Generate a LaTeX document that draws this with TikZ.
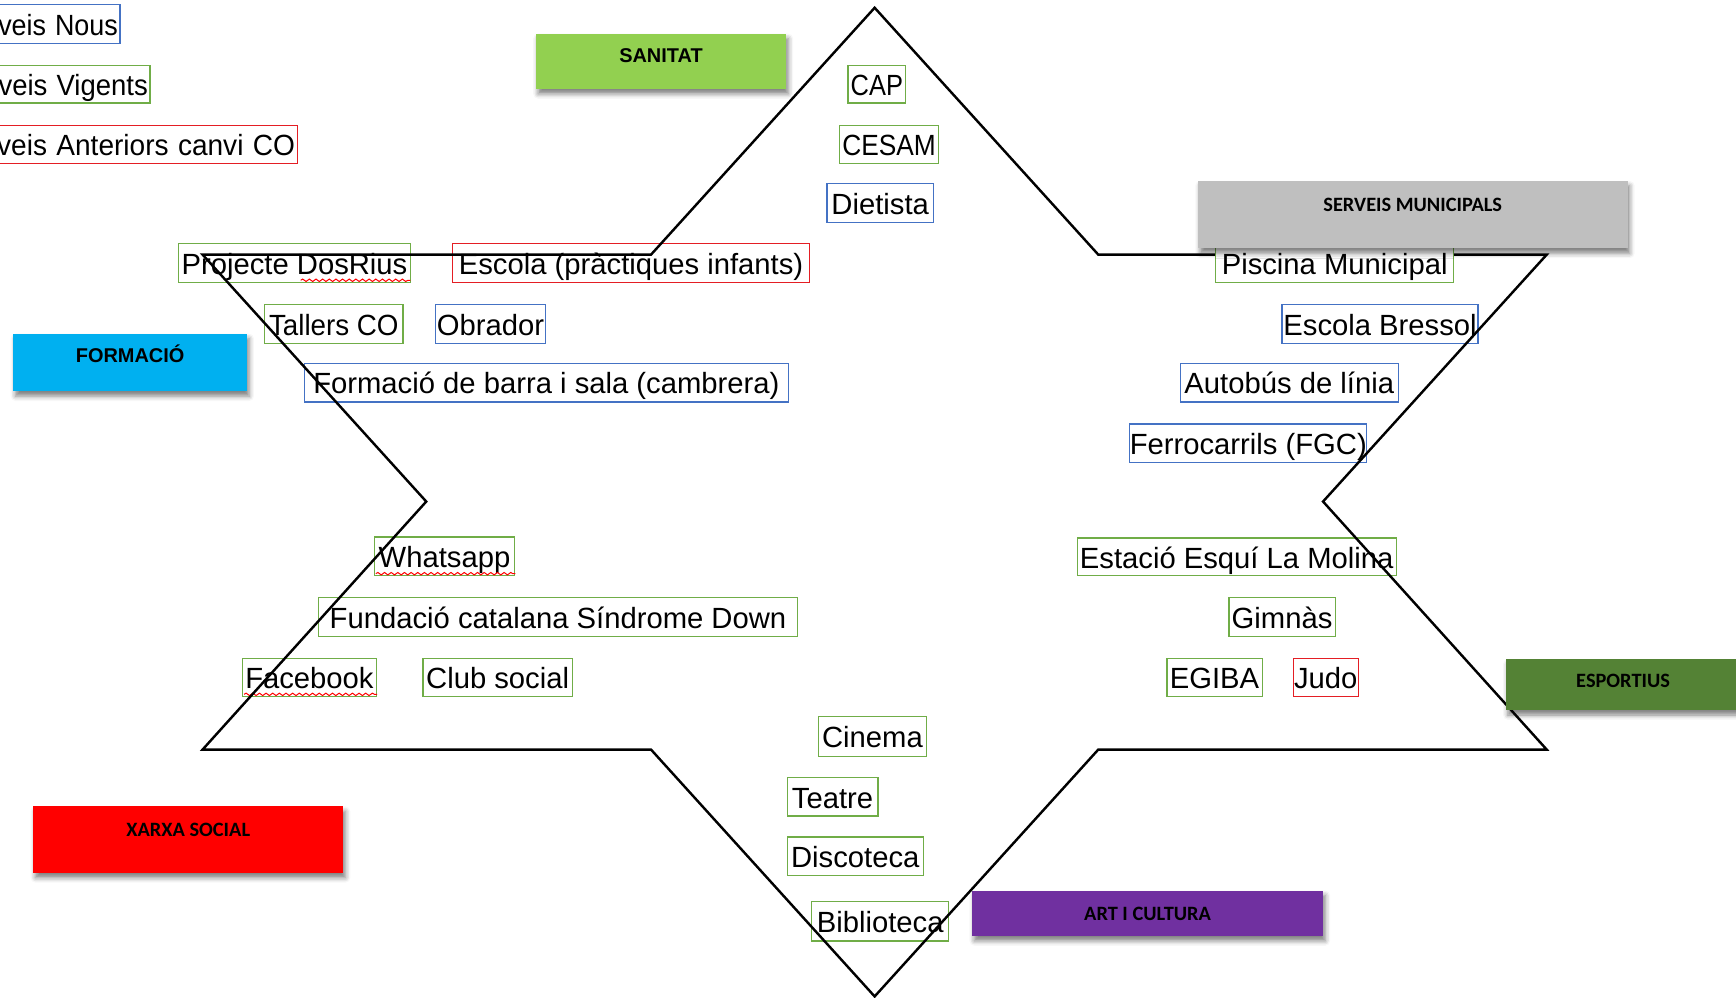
\documentclass[tikz,border=0pt]{standalone}
\usepackage{fontspec}
\setmainfont{Liberation Sans}
\newfontfamily\calfont{Carlito}
\usetikzlibrary{shadows.blur,decorations.pathmorphing}

\definecolor{bxblue}{RGB}{68,114,196}
\definecolor{bxgreen}{RGB}{112,173,71}
\definecolor{bxred}{RGB}{228,30,36}
\definecolor{sanitatc}{RGB}{146,208,80}
\definecolor{municipalc}{RGB}{191,191,191}
\definecolor{formacioc}{RGB}{0,176,240}
\definecolor{esportc}{RGB}{84,130,53}
\definecolor{xarxac}{RGB}{255,0,0}
\definecolor{culturac}{RGB}{112,48,160}

\tikzset{
  tbox/.style={inner sep=0pt, line width=0.55pt, text height=10.3pt, text depth=0pt,
    font=\fontsize{13.2}{15}\selectfont},
  hbox/.style={inner sep=0pt, draw=none,
    blur shadow={shadow xshift=1pt, shadow yshift=-2.2pt, shadow blur radius=2.2pt, shadow opacity=50}},
  starline/.style={line width=1.1pt, line join=miter},
  wavy/.style={draw=red, line width=0.45pt, decorate,
    decoration={snake, segment length=3pt, amplitude=0.55pt}},
  arialb/.style={font=\fontsize{9}{10}\selectfont\bfseries},
  calb/.style={font=\fontsize{9.2}{10}\selectfont\calfont\bfseries}
}

% text box: [extra options], colour, x1, y1, x2, y2, name, text
\newcommand\tb[8][]{%
  \pgfmathsetmacro\tbW{(#5-(#3))*0.5}%
  \pgfmathsetmacro\tbH{(#6-(#4))*0.5}%
  \node[tbox, draw=#2, minimum width=\tbW pt, minimum height=\tbH pt, #1] (#7)
    at ({(#3+#5)/2},{(#4+#6)/2}) {#8};}

% legend box running off the left edge: name, colour, right x, y1, y2, text
\newcommand\lb[6]{%
  \pgfmathsetmacro\tbH{(#5-(#4))*0.5}%
  \node[tbox, draw=#2, anchor=east, text width=150pt, align=right, inner xsep=1pt,
    minimum height=\tbH pt] (#1) at (#3,{(#4+#5)/2}) {#6};}

% coloured heading: name, fill, font style, x1, y1, x2, y2, text centre y, text
\newcommand\hd[9]{%
  \pgfmathsetmacro\hdW{(#6-(#4))*0.5}%
  \pgfmathsetmacro\hdT{(#8-(#5))*0.5+3.2}%
  \pgfmathsetmacro\hdD{(#7-(#5))*0.5-\hdT}%
  \node[hbox, fill=#2, #3, minimum width=\hdW pt, text height=\hdT pt,
    text depth=\hdD pt, anchor=north] (#1) at ({(#4+#6)/2},#5) {#9};}

\begin{document}
\begin{tikzpicture}[x=0.5pt, y=-0.5pt]
\useasboundingbox (0,0) rectangle (1568,901);
\clip (0,0) rectangle (1568,901);

% legend
\lb{nous}{bxblue}{109}{4}{39}{\scalebox{0.92}[1]{veis Nous}}
\lb{vigents}{bxgreen}{136}{59}{93}{\scalebox{0.94}[1]{veis Vigents}}
\lb{anteriors}{bxred}{269}{113}{148}{\scalebox{0.96}[1]{veis Anteriors canvi CO}}

% services (args: colour, x1, y1, x2, y2, name, text)
\tb{bxgreen}{766}{59}{818}{93}{cap}{\scalebox{0.87}[1]{CAP}}
\tb{bxgreen}{758}{113}{848}{148}{cesam}{\scalebox{0.9}[1]{CESAM}}
\tb{bxblue}{747}{166}{843}{201}{dietista}{Dietista}
\tb{bxgreen}{161}{220}{371}{255}{proj}{Projecte DosRius}
\tb{bxred}{409}{220}{731}{255}{escola}{Escola (pràctiques infants)}
\tb{bxgreen}{239}{275}{364}{310}{tallers}{\scalebox{0.95}[1]{Tallers CO}}
\tb{bxblue}{393}{275}{493}{310}{obrador}{Obrador}
\tb{bxblue}{1158}{275}{1335}{310}{bressol}{Escola Bressol}
\tb{bxblue}{275}{328}{712}{363}{barra}{Formació de barra i sala (cambrera)}
\tb{bxblue}{1066}{328}{1263}{363}{bus}{Autobús de línia}
\tb{bxblue}{1021}{383}{1234}{418}{fgc}{Ferrocarrils (FGC)}
\tb{bxgreen}{338}{485}{465}{520}{whats}{Whatsapp}
\tb{bxgreen}{973}{486}{1261}{520}{molina}{Estació Esquí La Molina}
\tb{bxgreen}{288}{540}{720}{575}{down}{Fundació catalana Síndrome Down}
\tb{bxgreen}{1110}{540}{1206}{575}{gimnas}{Gimnàs}
\tb{bxgreen}{219}{595}{340}{629}{face}{Facebook}
\tb{bxgreen}{382}{595}{517}{629}{club}{Club social}
\tb{bxgreen}{1054}{595}{1140}{629}{egiba}{EGIBA}
\tb{bxred}{1168}{595}{1227}{629}{judo}{Judo}
\tb{bxgreen}{739}{647}{837}{683}{cinema}{Cinema}
\tb{bxgreen}{711}{702}{793}{737}{teatre}{Teatre}
\tb{bxgreen}{711}{756}{834}{791}{disco}{Discoteca}
\tb{bxgreen}{733}{814}{857}{850}{biblio}{Biblioteca}

% spell-check underlines
\draw[wavy] ([xshift=-50pt,yshift=1.2pt]proj.south east) -- ([xshift=-0.5pt,yshift=1.2pt]proj.south east);
\draw[wavy] ([xshift=1pt,yshift=1.2pt]whats.south west) -- ([yshift=1.2pt]whats.south east);
\draw[wavy] ([xshift=1pt,yshift=1.2pt]face.south west) -- ([yshift=1.2pt]face.south east);

% six-pointed star outline
\coordinate (top) at (790,7);
\coordinate (in1) at (992,230);
\coordinate (ne) at (1397,230);
\coordinate (in2) at (1195,453);
\coordinate (se) at (1397,677);
\coordinate (in3) at (992,677);
\coordinate (bot) at (790,900);
\coordinate (in4) at (588,677);
\coordinate (sw) at (183,677);
\coordinate (in5) at (385,453);
\coordinate (nw) at (183,230);
\coordinate (in6) at (588,230);
\draw[starline] (top) -- (in1) -- (ne) -- (in2) -- (se) -- (in3) -- (bot)
  -- (in4) -- (sw) -- (in5) -- (nw) -- (in6) -- cycle;

\tb[fill=white]{bxgreen}{1098}{220}{1313}{255}{piscina}{Piscina Municipal}

% category headings
\hd{sanitat}{sanitatc}{arialb}{484}{30}{710}{80}{50}{SANITAT}
\hd{municipal}{municipalc}{calb}{1082}{163}{1470}{224}{184}{SERVEIS MUNICIPALS}
\hd{formacio}{formacioc}{arialb}{12}{301}{223}{353}{321}{FORMACIÓ}
\hd{esport}{esportc}{calb}{1360}{595}{1572}{641}{614}{ESPORTIUS}
\hd{xarxa}{xarxac}{calb}{30}{728}{310}{788}{749}{XARXA SOCIAL}
\hd{cultura}{culturac}{calb}{878}{804}{1195}{845}{825}{ART I CULTURA}
\end{tikzpicture}
\end{document}
